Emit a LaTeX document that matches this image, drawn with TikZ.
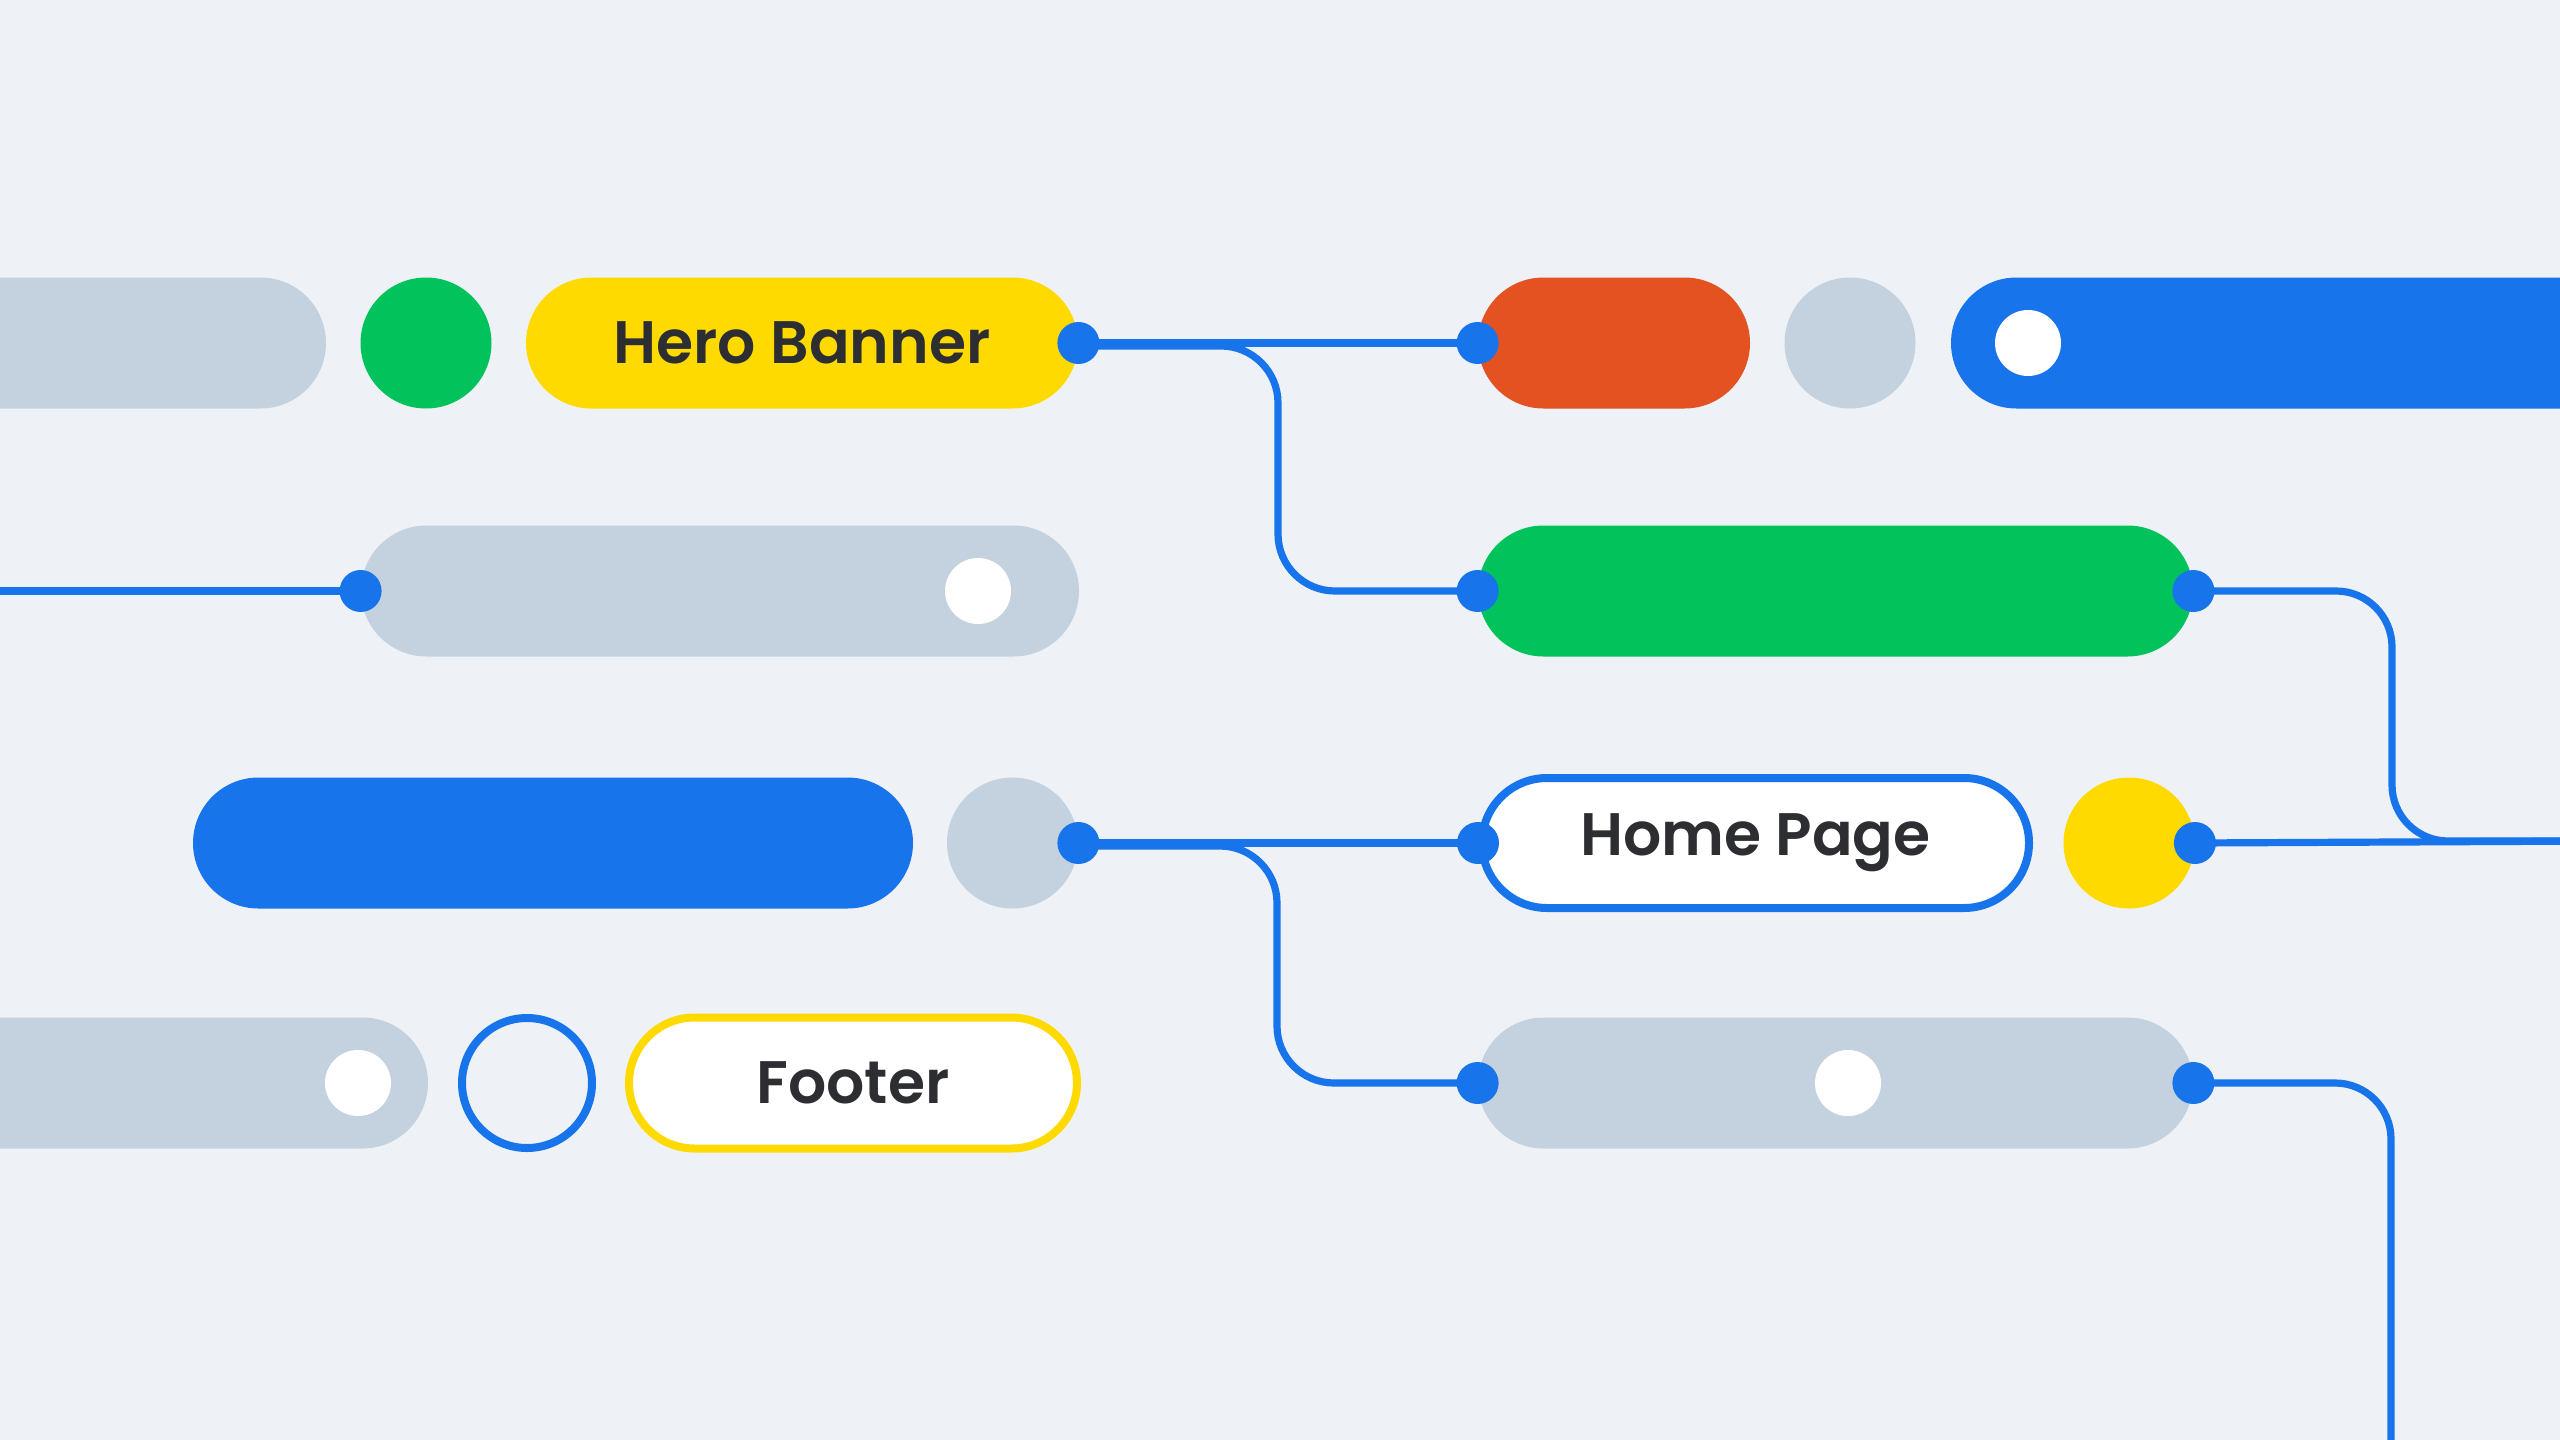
\documentclass[tikz,border=0pt]{standalone}
\usepackage{fontspec}
\newfontfamily\lblfont{Poppins}[UprightFont=* SemiBold]
\usetikzlibrary{calc}
\definecolor{bgc}{HTML}{EEF2F7}
\definecolor{grayc}{HTML}{C4D2DF}
\definecolor{bluec}{HTML}{1874EA}
\definecolor{greenc}{HTML}{02C35B}
\definecolor{orangec}{HTML}{E35220}
\definecolor{yellowc}{HTML}{FFDA00}
\definecolor{textc}{HTML}{2D2E31}
\tikzset{
  pill/.style={rectangle, rounded corners=32.75pt, minimum height=65.5pt, inner sep=0pt},
  ball/.style={circle, minimum size=65.5pt, inner sep=0pt},
  hole/.style={circle, fill=white, minimum size=33pt, inner sep=0pt},
  dot/.style={circle, fill=bluec, minimum size=21pt, inner sep=0pt},
  conn/.style={draw=bluec, line width=3.6pt},
  lbl/.style={font=\lblfont\fontsize{30}{32}\selectfont, text=textc},
}
\begin{document}
\begin{tikzpicture}[x=0.5pt,y=-0.5pt]
\fill[bgc] (0,0) rectangle (2560,1440);
\useasboundingbox (0,0) rectangle (2560,1440);
\clip (0,0) rectangle (2560,1440);

% row 1
\node[pill, fill=grayc, minimum width=213pt] (g1) at (113,343) {};
\node[ball, fill=greenc] (c1) at (426,343) {};
\node[pill, fill=yellowc, minimum width=276pt, lbl] (hero) at (802,343) {Hero Banner};
\node[pill, fill=orangec, minimum width=136pt] (orange) at (1614,343) {};
\node[ball, fill=grayc] (c2) at (1850,343) {};
\node[pill, fill=bluec, minimum width=374.5pt] (bl1) at (2325.5,343) {};
\node[hole] (h1) at (2028,343) {};

% row 2
\node[pill, fill=grayc, minimum width=359pt] (g2) at (720,591) {};
\node[hole] (h2) at (978,591) {};
\node[pill, fill=greenc, minimum width=357.5pt] (gr2) at (1835.5,591) {};

% row 3
\node[pill, fill=bluec, minimum width=360pt] (bl3) at (553,843) {};
\node[ball, fill=grayc] (c3) at (1012.5,843) {};
\node[pill, fill=white, draw=bluec, line width=4pt, minimum width=273.5pt, minimum height=65pt, rounded corners=32.5pt, lbl] (home) at (1755.5,843) {Home Page};
\node[ball, fill=yellowc] (c4) at (2129,843) {};

% row 4
\node[pill, fill=grayc, minimum width=264pt] (g4) at (164,1083) {};
\node[hole] (h4) at (358,1083) {};
\node[circle, draw=bluec, line width=4pt, minimum size=65pt, inner sep=0pt] (ring) at (527,1083) {};
\node[pill, fill=white, draw=yellowc, line width=4pt, minimum width=224pt, lbl] (footer) at (853,1083) {Footer};
\node[pill, fill=grayc, minimum width=357.5pt] (g5) at (1835.5,1083) {};
\node[hole] (h5) at (1848,1083) {};

% connectors
\coordinate (leftend) at (-20,591);
\coordinate (rightA) at (2600,841);
\coordinate (bottomB) at (2391,1480);

\draw[conn] (leftend) -- (g2.west);
\draw[conn] (hero.east) -- (orange.west);
\draw[conn, rounded corners=28.5pt] ($(hero.east)+(0,3)$) -| (1278,470) |- (gr2.west);
\draw[conn] (c3.east) -- (home.west);
\draw[conn, rounded corners=28.5pt] ($(c3.east)+(0,3)$) -| (1277,960) |- (g5.west);
\draw[conn, rounded corners=28pt] (gr2.east) -| (2392,700) |- (rightA);
\draw[conn] (c4.east) -- (rightA);
\draw[conn, rounded corners=28pt] (g5.east) -| (bottomB);

% dots
\node[dot] (d1) at (g2.west) {};
\node[dot] (d2) at (hero.east) {};
\node[dot] (d3) at (orange.west) {};
\node[dot] (d4) at (gr2.west) {};
\node[dot] (d5) at (gr2.east) {};
\node[dot] (d6) at (c3.east) {};
\node[dot] (d7) at (home.west) {};
\node[dot] (d8) at (c4.east) {};
\node[dot] (d9) at (g5.west) {};
\node[dot] (d10) at (g5.east) {};
\end{tikzpicture}
\end{document}
